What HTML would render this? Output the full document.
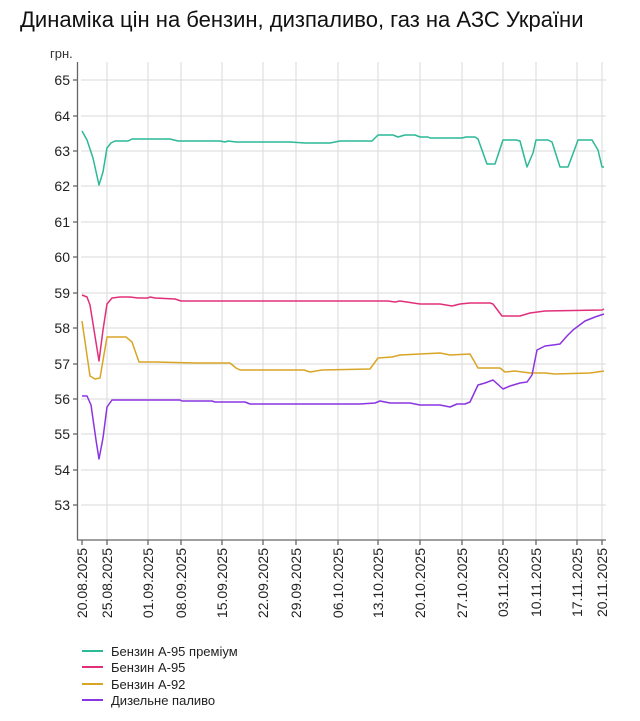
<!DOCTYPE html>
<html><head><meta charset="utf-8"><style>
body{margin:0;background:#fff;}
svg{display:block;font-family:"Liberation Sans",Arial,sans-serif;}
</style></head><body>
<svg width="640" height="721" viewBox="0 0 640 721" xmlns="http://www.w3.org/2000/svg">
<text x="20" y="27" font-size="22" fill="#111">Динаміка цін на бензин, дизпаливо, газ на АЗС України</text>
<text x="50" y="58" font-size="13" fill="#333">грн.</text>
<g stroke="#e0e0e0" stroke-width="1.2">
<line x1="81" y1="80" x2="606" y2="80"/><line x1="81" y1="116" x2="606" y2="116"/><line x1="81" y1="151" x2="606" y2="151"/><line x1="81" y1="186" x2="606" y2="186"/><line x1="81" y1="222" x2="606" y2="222"/><line x1="81" y1="257" x2="606" y2="257"/><line x1="81" y1="293" x2="606" y2="293"/><line x1="81" y1="328" x2="606" y2="328"/><line x1="81" y1="364" x2="606" y2="364"/><line x1="81" y1="399" x2="606" y2="399"/><line x1="81" y1="434" x2="606" y2="434"/><line x1="81" y1="470" x2="606" y2="470"/><line x1="81" y1="505" x2="606" y2="505"/>
<line x1="107" y1="62" x2="107" y2="540"/><line x1="148" y1="62" x2="148" y2="540"/><line x1="181" y1="62" x2="181" y2="540"/><line x1="222" y1="62" x2="222" y2="540"/><line x1="263" y1="62" x2="263" y2="540"/><line x1="296" y1="62" x2="296" y2="540"/><line x1="338" y1="62" x2="338" y2="540"/><line x1="378" y1="62" x2="378" y2="540"/><line x1="420" y1="62" x2="420" y2="540"/><line x1="462" y1="62" x2="462" y2="540"/><line x1="503" y1="62" x2="503" y2="540"/><line x1="536" y1="62" x2="536" y2="540"/><line x1="577" y1="62" x2="577" y2="540"/><line x1="602" y1="62" x2="602" y2="540"/>
</g>
<g stroke="#666" stroke-width="1.3">
<line x1="77.5" y1="62" x2="77.5" y2="540"/><line x1="77" y1="540" x2="606" y2="540"/>
<line x1="73" y1="80" x2="78" y2="80"/><line x1="73" y1="116" x2="78" y2="116"/><line x1="73" y1="151" x2="78" y2="151"/><line x1="73" y1="186" x2="78" y2="186"/><line x1="73" y1="222" x2="78" y2="222"/><line x1="73" y1="257" x2="78" y2="257"/><line x1="73" y1="293" x2="78" y2="293"/><line x1="73" y1="328" x2="78" y2="328"/><line x1="73" y1="364" x2="78" y2="364"/><line x1="73" y1="399" x2="78" y2="399"/><line x1="73" y1="434" x2="78" y2="434"/><line x1="73" y1="470" x2="78" y2="470"/><line x1="73" y1="505" x2="78" y2="505"/>
<line x1="82" y1="540" x2="82" y2="545"/><line x1="107" y1="540" x2="107" y2="545"/><line x1="148" y1="540" x2="148" y2="545"/><line x1="181" y1="540" x2="181" y2="545"/><line x1="222" y1="540" x2="222" y2="545"/><line x1="263" y1="540" x2="263" y2="545"/><line x1="296" y1="540" x2="296" y2="545"/><line x1="338" y1="540" x2="338" y2="545"/><line x1="378" y1="540" x2="378" y2="545"/><line x1="420" y1="540" x2="420" y2="545"/><line x1="462" y1="540" x2="462" y2="545"/><line x1="503" y1="540" x2="503" y2="545"/><line x1="536" y1="540" x2="536" y2="545"/><line x1="577" y1="540" x2="577" y2="545"/><line x1="602" y1="540" x2="602" y2="545"/>
</g>
<g font-size="14" fill="#222" text-anchor="end">
<text x="70" y="85">65</text><text x="70" y="121">64</text><text x="70" y="156">63</text><text x="70" y="191">62</text><text x="70" y="227">61</text><text x="70" y="262">60</text><text x="70" y="298">59</text><text x="70" y="333">58</text><text x="70" y="369">57</text><text x="70" y="404">56</text><text x="70" y="439">55</text><text x="70" y="475">54</text><text x="70" y="510">53</text>
</g>
<g font-size="14" fill="#222" text-anchor="end">
<text transform="translate(87,548) rotate(-90)">20.08.2025</text>
<text transform="translate(112,548) rotate(-90)">25.08.2025</text>
<text transform="translate(153,548) rotate(-90)">01.09.2025</text>
<text transform="translate(186,548) rotate(-90)">08.09.2025</text>
<text transform="translate(227,548) rotate(-90)">15.09.2025</text>
<text transform="translate(268,548) rotate(-90)">22.09.2025</text>
<text transform="translate(301,548) rotate(-90)">29.09.2025</text>
<text transform="translate(343,548) rotate(-90)">06.10.2025</text>
<text transform="translate(383,548) rotate(-90)">13.10.2025</text>
<text transform="translate(425,548) rotate(-90)">20.10.2025</text>
<text transform="translate(467,548) rotate(-90)">27.10.2025</text>
<text transform="translate(508,548) rotate(-90)">03.11.2025</text>
<text transform="translate(541,548) rotate(-90)">10.11.2025</text>
<text transform="translate(582,548) rotate(-90)">17.11.2025</text>
<text transform="translate(607,548) rotate(-90)">20.11.2025</text>
</g>
<g fill="none" stroke-width="1.5" stroke-linejoin="round">
<polyline stroke="#2bb996" points="82,131 87,140 93,158 99,185 103,172 107,148 111,143 115,141 128,141 132,139 170,139 178,141 220,141 225,142 228,141 236,142 290,142 305,143 330,143 340,141 372,141 378,135 393,135 398,137 405,135 415,135 420,137 428,137 430,138 462,138 466,137 475,137 478,139 487,164 495,164 503,140 516,140 520,141 527,167 533,153 536,140 548,140 552,142 560,167 568,167 574,151 578,140 592,140 598,150 602,167 604,167"/>
<polyline stroke="#e0307a" points="82,295 87,297 90,305 99,361 103,330 107,304 112,298 120,297 130,297 138,298 148,298 150,297 155,298 175,299 181,301 300,301 380,301 388,301 395,302 400,301 420,304 440,304 452,306 460,304 470,303 490,303 493,304 502,316 520,316 530,313 545,311 602,310 604,309"/>
<polyline stroke="#d9a526" points="82,321 90,376 95,379 100,378 107,337 126,337 132,342 139,362 155,362 196,363 230,363 236,368 240,370 270,370 304,370 310,372 322,370 370,369 378,358 392,357 400,355 440,353 450,355 470,354 478,368 490,368 500,368 505,372 515,371 530,373 545,373 555,374 590,373 604,371"/>
<polyline stroke="#8a35e0" points="82,396 87,396 91,405 96,440 99,459 103,438 107,407 112,400 180,400 182,401 212,401 215,402 245,402 250,404 360,404 375,403 380,401 390,403 410,403 420,405 440,405 450,407 457,404 465,404 470,402 478,385 485,383 493,380 503,389 510,386 520,383 527,382 532,375 537,350 545,346 553,345 560,344 567,336 573,330 585,321 595,317 604,314"/>
</g>
<g stroke-width="2">
<line x1="82" y1="651" x2="103" y2="651" stroke="#2bb996"/>
<line x1="82" y1="667" x2="103" y2="667" stroke="#e0307a"/>
<line x1="82" y1="684" x2="103" y2="684" stroke="#d9a526"/>
<line x1="82" y1="700" x2="103" y2="700" stroke="#8a35e0"/>
</g>
<g font-size="13" fill="#222">
<text x="111" y="656">Бензин А-95 преміум</text>
<text x="111" y="672">Бензин А-95</text>
<text x="111" y="689">Бензин А-92</text>
<text x="111" y="705">Дизельне паливо</text>
</g>
</svg>
</body></html>
